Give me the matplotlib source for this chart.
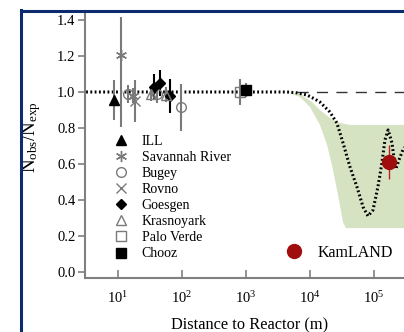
import numpy as np
import matplotlib
matplotlib.use("Agg")
import matplotlib.pyplot as plt
from matplotlib.lines import Line2D

plt.rcParams['font.family'] = ['Liberation Serif', 'DejaVu Serif']
plt.rcParams['mathtext.fontset'] = 'custom'
plt.rcParams['mathtext.rm'] = 'Liberation Serif'
plt.rcParams['mathtext.it'] = 'Liberation Serif:italic'
plt.rcParams['mathtext.default'] = 'regular'

# ==========================================
# DATA
# ==========================================

ill_x = [8.76]
ill_y = [0.955]
ill_err = [0.11]

sav_x = [11.2, 17.0]
sav_y = [1.205, 0.98]
sav_err_lo = [0.40, 0.04]
sav_err_hi = [0.21, 0.04]

bugey_x = [14.5, 40.0, 95.0]
bugey_y = [0.99, 0.99, 0.915]
bugey_err = [0.05, 0.05, 0.13]

rovno_x = [18.3]
rovno_y = [0.95]
rovno_err = [0.115]

goesgen_x = [36.5, 45.0, 65.0]
goesgen_y = [1.03, 1.05, 0.978]
goesgen_err = [0.07, 0.07, 0.095]

krasno_x = [33.0, 57.0]
krasno_y = [0.99, 0.985]
krasno_err = [0.04, 0.04]

palo_x = [800.0]
palo_y = [1.0]
palo_err = [0.07]

chooz_x = [1000.0]
chooz_y = [1.01]
chooz_err = [0.04]

kam_x = [1.72e5]
kam_y = [0.611]
kam_err = [0.094]

# oscillation curve
curve_x = [2.0, 4.37e3, 6.3e3, 8.98e3, 1.2e4, 1.43e4, 2.04e4, 2.63e4, 3.28e4,
           4.22e4, 5.42e4, 6.76e4, 8.05e4, 9.64e4, 1.15e5, 1.33e5, 1.48e5,
           1.66e5, 1.91e5, 2.04e5, 2.19e5, 2.45e5, 2.82e5, 3.16e5]
curve_y = [1.0, 1.0, 0.995, 0.983, 0.96, 0.944, 0.889, 0.828, 0.717,
           0.583, 0.472, 0.361, 0.311, 0.344, 0.472, 0.606, 0.733,
           0.789, 0.717, 0.639, 0.572, 0.622, 0.678, 0.70]

# allowed band
band_hi_x = [4.37e3, 6.98e3, 1.07e4, 1.43e4, 2.04e4, 2.95e4, 4.22e4, 1e6]
band_hi_y = [1.0, 0.989, 0.944, 0.90, 0.856, 0.828, 0.817, 0.817]
band_lo_x = [4.37e3, 6.98e3, 1.0e4, 1.43e4, 1.85e4, 2.29e4, 2.74e4, 3.28e4, 3.65e4, 1e6]
band_lo_y = [1.0, 0.972, 0.917, 0.817, 0.706, 0.567, 0.428, 0.278, 0.244, 0.244]

noosc_x = [6.3e3, 1e6]
noosc_y = [1.0, 1.0]

x_ticks = [1e1, 1e2, 1e3, 1e4, 1e5]
y_ticks = [0.0, 0.2, 0.4, 0.6, 0.8, 1.0, 1.2, 1.4]
y_ticklabels = ['0.0', '0.2', '0.4', '0.6', '0.8', '1.0', '1.2', '1.4']

# ==========================================
# FIGURE
# ==========================================

W, H = 404, 332
fig = plt.figure(figsize=(W / 100, H / 100), dpi=100)
ax = fig.add_axes([85 / W, 54 / H, 353 / W, 264 / H])

# band
poly_x = band_hi_x + band_lo_x[::-1]
poly_y = band_hi_y + band_lo_y[::-1]
ax.fill(poly_x, poly_y, color='#d5e3c2', lw=0, zorder=1)

ax.plot(noosc_x, noosc_y, color='#333333', lw=1.0, ls=(0, (8, 6)), zorder=2)
ax.plot(curve_x, curve_y, color='black', lw=2.2, ls=(0, (0.6, 0.8)), zorder=3)

gray = '#7a7a7a'
ebkw = dict(ls='none', ecolor=gray, elinewidth=1.5, capsize=0, zorder=4)

ax.errorbar(ill_x, ill_y, yerr=ill_err, marker='^', ms=7, mfc='black', mec='black', **ebkw)
ax.errorbar(sav_x, sav_y, yerr=[sav_err_lo, sav_err_hi], marker=(6, 2, 0), ms=8,
            mfc=gray, mec=gray, mew=1, **ebkw)
ax.errorbar(bugey_x, bugey_y, yerr=bugey_err, marker='o', ms=7, mfc='none', mec=gray, mew=1, **ebkw)
ax.errorbar(rovno_x, rovno_y, yerr=rovno_err, marker='x', ms=7, mfc=gray, mec=gray, mew=1, **ebkw)
ax.errorbar(goesgen_x, goesgen_y, yerr=goesgen_err, marker='D', ms=5.5, mfc='black', mec='black',
            ls='none', ecolor='black', elinewidth=1.5, capsize=0, zorder=4)
ax.errorbar(krasno_x, krasno_y, yerr=krasno_err, marker='^', ms=7, mfc='none', mec=gray, mew=1, **ebkw)
ax.errorbar(palo_x, palo_y, yerr=palo_err, marker='s', ms=7, mfc='none', mec=gray, mew=1, **ebkw)
ax.errorbar(chooz_x, chooz_y, yerr=chooz_err, marker='s', ms=7, mfc='black', mec='black', **ebkw)
ax.errorbar(kam_x, kam_y, yerr=kam_err, marker='o', ms=10, mfc='#a00d0d', mec='#a00d0d',
            ls='none', ecolor='#c02020', elinewidth=1.0, capsize=0, zorder=5)

ax.set_xscale('log')
ax.set_xlim(3.05, 1e6)
ax.set_ylim(-0.033, 1.433)
ax.set_xticks(x_ticks)
ax.xaxis.set_minor_locator(matplotlib.ticker.NullLocator())
ax.set_yticks(y_ticks)
ax.set_yticklabels(y_ticklabels)

for s in ['top', 'right']:
    ax.spines[s].set_visible(False)
for s in ['left', 'bottom']:
    ax.spines[s].set_color('#808080')
    ax.spines[s].set_linewidth(1.5)

ax.tick_params(axis='y', direction='out', length=5, width=1.2, color='#808080',
               labelsize=10.5, pad=2)
ax.tick_params(axis='x', direction='in', length=6, width=1.2, color='#808080',
               labelsize=10.5, pad=9)

ax.set_xlabel('Distance to Reactor (m)', fontsize=11.8)
ax.xaxis.set_label_coords((250 - 85) / 353, -(317 - 278) / 264)
ax.set_ylabel(r'N$_{obs}$/N$_{exp}$', fontsize=13.5)
ax.yaxis.set_label_coords(-(85 - 43) / 353, (278 - 137) / 264)

# legends
handles = [
    Line2D([], [], ls='none', marker='^', ms=7, mfc='black', mec='black'),
    Line2D([], [], ls='none', marker=(6, 2, 0), ms=8, mfc=gray, mec=gray),
    Line2D([], [], ls='none', marker='o', ms=7, mfc='none', mec=gray),
    Line2D([], [], ls='none', marker='x', ms=7, mec=gray),
    Line2D([], [], ls='none', marker='D', ms=5.5, mfc='black', mec='black'),
    Line2D([], [], ls='none', marker='^', ms=7, mfc='none', mec=gray),
    Line2D([], [], ls='none', marker='s', ms=7, mfc='none', mec=gray),
    Line2D([], [], ls='none', marker='s', ms=7, mfc='black', mec='black'),
]
labels = ['ILL', 'Savannah River', 'Bugey', 'Rovno', 'Goesgen', 'Krasnoyark',
          'Palo Verde', 'Chooz']
leg = ax.legend(handles, labels, loc='upper left', frameon=False, fontsize=10,
                bbox_to_anchor=((114 - 85) / 353, (278 - 135) / 264),
                handlelength=1.0, handletextpad=1.0, labelspacing=0.22,
                borderaxespad=0, borderpad=0)
ax.add_artist(leg)

kam_handle = Line2D([], [], ls='none', marker='o', ms=10, mfc='#a00d0d', mec='#a00d0d')
ax.legend([kam_handle], ['KamLAND'], loc='upper left', frameon=False, fontsize=11.5,
          bbox_to_anchor=((284 - 85) / 353, (278 - 245) / 264),
          handlelength=1.2, handletextpad=0.9, borderaxespad=0, borderpad=0)

# slide frame
navy = '#0c2a6e'
fig.add_artist(Line2D([20.5 / W, 20.5 / W], [0, 1 - 10 / H], color=navy, lw=2.2,
                      transform=fig.transFigure))
fig.add_artist(Line2D([20.5 / W, 1], [1 - 10.5 / H, 1 - 10.5 / H], color=navy, lw=2.2,
                      transform=fig.transFigure))

fig.savefig('out.png', dpi=100)
